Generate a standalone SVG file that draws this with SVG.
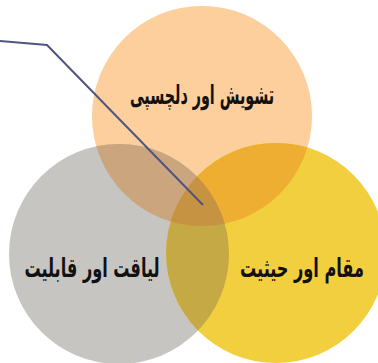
<svg xmlns="http://www.w3.org/2000/svg" width="378" height="363" viewBox="0 0 378 363">
<style>
.lbl{font-family:"DejaVu Sans","Noto Sans",sans-serif;font-weight:bold;font-size:26px;fill:#111;text-anchor:middle;direction:rtl}
</style>
<defs>
<clipPath id="cO"><circle cx="202" cy="116" r="110"/></clipPath>
<clipPath id="cG"><circle cx="119" cy="254" r="110"/></clipPath>
</defs>
<rect width="378" height="363" fill="#fff"/>
<g id="circle-top"><circle cx="202" cy="116" r="110" fill="#FCCF9C"/></g>
<g id="circle-left"><circle cx="119" cy="254" r="110" fill="#C6C5C1"/></g>
<g id="circle-right"><circle cx="276" cy="253" r="110" fill="#F2CF3E"/></g>
<g id="overlaps">
<g clip-path="url(#cO)"><circle cx="119" cy="254" r="110" fill="#CBA57E"/><circle cx="276" cy="253" r="110" fill="#EDAE31"/></g>
<g clip-path="url(#cG)"><circle cx="276" cy="253" r="110" fill="#C5A944"/></g>
<g clip-path="url(#cG)"><g clip-path="url(#cO)"><circle cx="276" cy="253" r="110" fill="#C59342"/></g></g>
</g>
<g id="connectors"><polyline points="0,41 47,45 203,205" fill="none" stroke="#4F5482" stroke-width="2"/></g>
<g id="label-top"><text class="lbl" transform="translate(202,104) scale(0.55,1)">تشویش اور دلچسپی</text></g>
<g id="label-left"><text class="lbl" transform="translate(92,277) scale(0.62,1)">لیاقت اور قابلیت</text></g>
<g id="label-right"><text class="lbl" transform="translate(302,277) scale(0.62,1)">مقام اور حیثیت</text></g>
</svg>
